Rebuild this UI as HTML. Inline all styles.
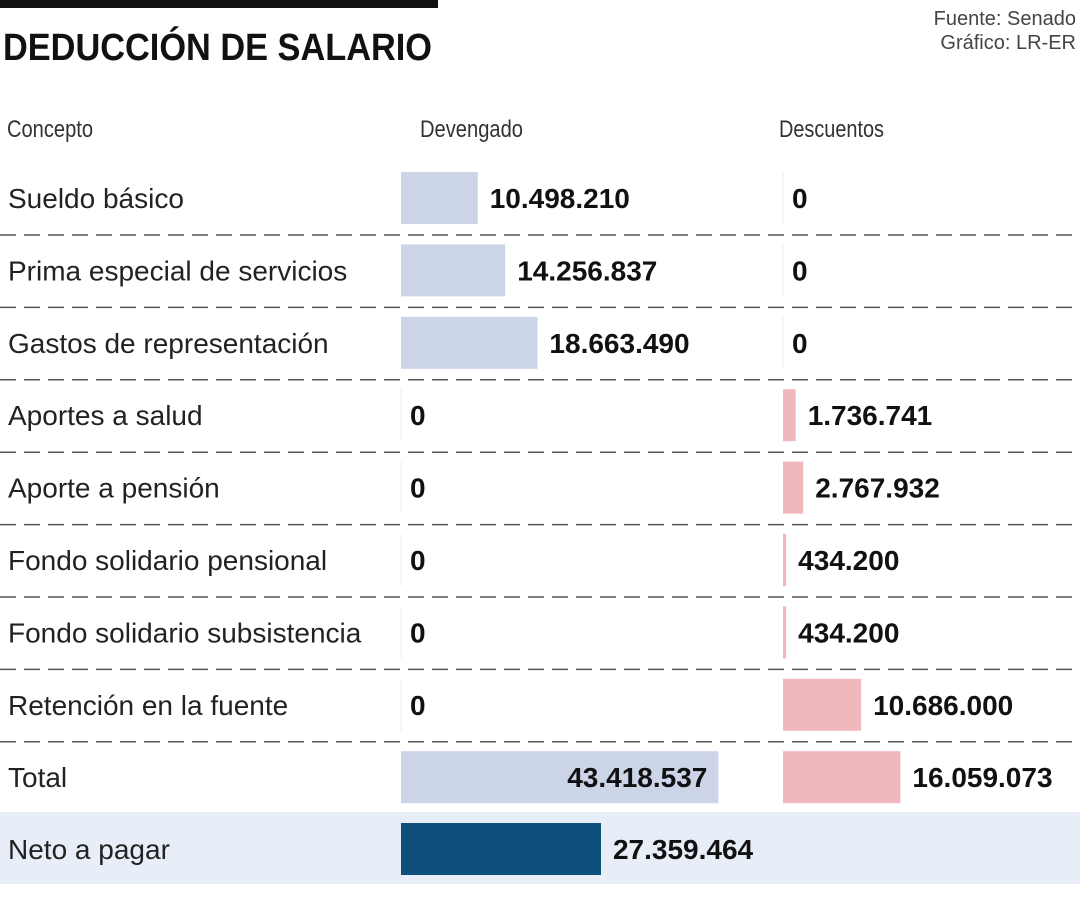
<!DOCTYPE html>
<html><head><meta charset="utf-8"><style>
body{margin:0;background:#fff}
svg{display:block;font-family:"Liberation Sans",sans-serif}
</style></head><body>
<svg id="c" width="1080" height="900">
<rect x="0" y="0" width="438" height="8" fill="#111"/>
<text x="3" y="60" font-size="38" font-weight="bold" textLength="429" lengthAdjust="spacingAndGlyphs" fill="#111">DEDUCCIÓN DE SALARIO</text>
<text x="1076" y="25" font-size="20" text-anchor="end" fill="#444">Fuente:  Senado</text>
<text x="1076" y="49" font-size="20" text-anchor="end" fill="#444">Gráfico: LR-ER</text>
<text x="7" y="137" font-size="24" fill="#333" textLength="86" lengthAdjust="spacingAndGlyphs">Concepto</text>
<text x="420" y="137" font-size="24" fill="#333" textLength="103" lengthAdjust="spacingAndGlyphs">Devengado</text>
<text x="779" y="137" font-size="24" fill="#333" textLength="105" lengthAdjust="spacingAndGlyphs">Descuentos</text>
<rect x="0" y="812" width="1080" height="72" fill="#e8eef8"/>
<g id="rows"></g>
</svg>
<script>
const categories=["Sueldo básico","Prima especial de servicios","Gastos de representación","Aportes a salud","Aporte a pensión","Fondo solidario pensional","Fondo solidario subsistencia","Retención en la fuente","Total"];
const devengado=[10498210,14256837,18663490,0,0,0,0,0,43418537];
const descuentos=[0,0,0,1736741,2767932,434200,434200,10686000,16059073];
const netoLabel="Neto a pagar";
const neto=[27359464];
const NS="http://www.w3.org/2000/svg";
const g=document.getElementById('rows');
const sx=v=>v*7.31/1e6;
const fmt=v=>v.toLocaleString('de-DE');
const rowY=i=>198+i*72.4;
function el(t,a,txt){const e=document.createElementNS(NS,t);for(const k in a)e.setAttribute(k,a[k]);if(txt!==undefined)e.textContent=txt;g.appendChild(e);return e;}
function drawVal(x0,v,cy,fill,name,inside){
  if(v>0){const r=el('rect',{x:x0,y:cy-26,width:Math.max(sx(v),2),height:52,fill:fill});
  
  }
  else{const l=el('line',{x1:x0,x2:x0,y1:cy-26,y2:cy+26,stroke:'#eee'});
  
  }
  let t;
  const s=fmt(v);
  const w=s.length*14.6+(s.length>1?0:0);
  if(inside) t=el('text',{x:x0+sx(v)-11,y:cy+10,'font-size':28,'font-weight':'bold','text-anchor':'end',fill:'#111'},s);
  else t=el('text',{x:x0+(v>0?sx(v):0)+(v>0?12:9),y:cy+10,'font-size':28,'font-weight':'bold',fill:'#111'},s);
  
  
}
categories.forEach((c,i)=>{
  const cy=rowY(i);
  const t=el('text',{x:8,y:cy+10,'font-size':28,fill:'#222'},c);
  
  
  drawVal(401,devengado[i],cy,'#ccd5e8','devengado',i===categories.length-1);
  drawVal(783,descuentos[i],cy,'#f0b8bc','descuentos',false);
  if(i<categories.length-1){
  const ly=cy+37;
  const d=el('line',{x1:0,x2:1080,y1:ly,y2:ly,stroke:'#555','stroke-width':1.5,'stroke-dasharray':'16 8'});
  
  }
});
const ny=849;
const nl=el('text',{x:8,y:ny+10,'font-size':28,fill:'#222'},netoLabel);


drawVal(401,neto[0],ny,'#0f4f7c','neto',false);
</script>
</body></html>
